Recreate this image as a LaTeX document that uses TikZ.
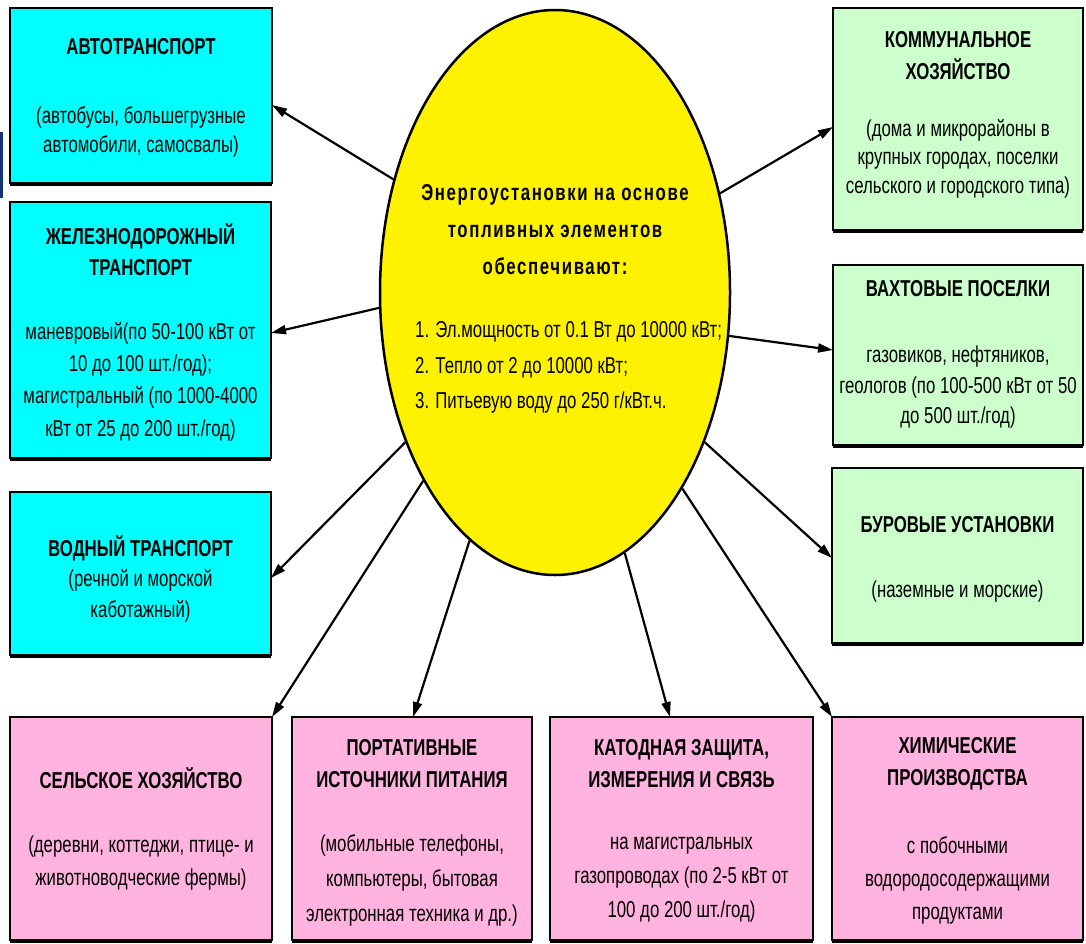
\documentclass[tikz,border=0pt]{standalone}
\usepackage{fontspec}
\setmainfont[FakeStretch=0.73]{Liberation Sans}
\newfontfamily\elfont[FakeStretch=0.73,LetterSpace=7]{Liberation Sans}
\usetikzlibrary{arrows.meta,shapes.geometric,shadows}
\definecolor{cyanbox}{RGB}{0,255,255}
\definecolor{greenbox}{RGB}{204,255,204}
\definecolor{pinkbox}{RGB}{255,179,222}
\definecolor{navybar}{RGB}{20,50,120}
\begin{document}
\begin{tikzpicture}[x=1pt,y=-1pt,
  box/.style={draw=black, line width=2.5pt, inner sep=0pt, outer sep=0pt, anchor=north west,
    drop shadow={shadow xshift=0pt, shadow yshift=-3pt, fill=black, opacity=1}},
  cbox/.style={box, fill=cyanbox},
  gbox/.style={box, fill=greenbox},
  pbox/.style={box, fill=pinkbox},
  ttl/.style={font=\fontsize{23}{31}\selectfont\bfseries, align=center, inner sep=0pt},
  body/.style={font=\fontsize{23}{31}\selectfont, align=center, inner sep=0pt},
  arr/.style={line width=2.2pt, -{Triangle[length=15pt,width=9pt]}}
]
\useasboundingbox (0,0) rectangle (1086,943);
\fill[white] (0,0) rectangle (1086,943);
\fill[navybar] (0,132) rectangle (2.5,198);

% ellipse
\node[ellipse, draw=black, line width=2.5pt, fill=yellow, minimum width=350pt, minimum height=565pt, inner sep=0pt] (ell) at (555,292.5) {};

% boxes
\node[cbox, minimum width=262pt, minimum height=175pt] (A) at (10,8) {};
\node[cbox, minimum width=261pt, minimum height=256pt] (B) at (10,202) {};
\node[cbox, minimum width=261pt, minimum height=163pt] (C) at (10,492) {};
\node[gbox, minimum width=250pt, minimum height=222pt] (D) at (833,8) {};
\node[gbox, minimum width=250pt, minimum height=180pt] (E) at (833,265) {};
\node[gbox, minimum width=251pt, minimum height=175pt] (F) at (832,468) {};
\node[pbox, minimum width=262pt, minimum height=223pt] (G) at (10,717) {};
\node[pbox, minimum width=240pt, minimum height=223pt] (H) at (292,717) {};
\node[pbox, minimum width=263pt, minimum height=223pt] (I) at (550,717) {};
\node[pbox, minimum width=251pt, minimum height=223pt] (J) at (832,717) {};

% texts
\node[ttl] (At) at (141,47) {АВТОТРАНСПОРТ};
\node[body, font=\fontsize{23}{29.5}\selectfont] (Ab) at (141,132) {(автобусы, большегрузные\\автомобили, самосвалы)};
\node[ttl] (Bt) at (140.5,250) {ЖЕЛЕЗНОДОРОЖНЫЙ\\ТРАНСПОРТ};
\node[body, font=\fontsize{23}{32.3}\selectfont] (Bb) at (140.5,381.5) {маневровый(по 50-100 кВт от\\10 до 100 шт./год);\\магистральный (по 1000-4000\\кВт от 25 до 200 шт./год)};
\node[ttl] (Ct) at (140.5,548) {ВОДНЫЙ ТРАНСПОРТ};
\node[body] (Cb) at (140.5,595.5) {(речной и морской\\каботажный)};
\node[ttl, font=\fontsize{23}{32}\selectfont\bfseries] (Dt) at (958,56) {КОММУНАЛЬНОЕ\\ХОЗЯЙСТВО};
\node[body, font=\fontsize{23}{28.5}\selectfont] (Db) at (958,158.5) {(дома и микрорайоны в\\крупных городах, поселки\\сельского и городского типа)};
\node[ttl] (Et) at (958,289) {ВАХТОВЫЕ ПОСЕЛКИ};
\node[body, font=\fontsize{23}{30.5}\selectfont] (Eb) at (958,387.5) {газовиков, нефтяников,\\геологов (по 100-500 кВт от 50\\до 500 шт./год)};
\node[ttl] (Ft) at (957.5,525) {БУРОВЫЕ УСТАНОВКИ};
\node[body] (Fb) at (957.5,592) {(наземные и морские)};
\node[ttl] (Gt) at (141,778) {СЕЛЬСКОЕ ХОЗЯЙСТВО};
\node[body, font=\fontsize{23}{33}\selectfont] (Gb) at (141,863.5) {(деревни, коттеджи, птице- и\\животноводческие фермы)};
\node[ttl, font=\fontsize{23}{32}\selectfont\bfseries] (Ht) at (412,764) {ПОРТАТИВНЫЕ\\ИСТОЧНИКИ ПИТАНИЯ};
\node[body, font=\fontsize{23}{35}\selectfont] (Hb) at (412,880) {(мобильные телефоны,\\компьютеры, бытовая\\электронная техника и др.)};
\node[ttl, font=\fontsize{23}{32}\selectfont\bfseries] (It) at (681.5,764) {КАТОДНАЯ ЗАЩИТА,\\ИЗМЕРЕНИЯ И СВЯЗЬ};
\node[body, font=\fontsize{23}{34}\selectfont] (Ib) at (681.5,880) {на магистральных\\газопроводах (по 2-5 кВт от\\100 до 200 шт./год)};
\node[ttl, font=\fontsize{23}{32}\selectfont\bfseries] (Jt) at (957.5,764) {ХИМИЧЕСКИЕ\\ПРОИЗВОДСТВА};
\node[body, font=\fontsize{23}{33}\selectfont] (Jb) at (957.5,880) {с побочными\\водородосодержащими\\продуктами};

\node[ttl, font=\elfont\fontsize{23}{37}\selectfont\bfseries] (Et1) at (555,230) {Энергоустановки на основе\\топливных элементов\\обеспечивают:};
\node[body, font=\fontsize{23}{35.5}\selectfont, align=left, anchor=west] (El) at (415,367.5) {1. Эл.мощность от 0.1 Вт до 10000 кВт;\\2. Тепло от 2 до 10000 кВт;\\3. Питьевую воду до 250 г/кВт.ч.};

% arrows
\draw[arr] (ell.145.7) -- ([yshift=-97pt]A.north east);
\draw[arr] (ell.185.9) -- ([yshift=-131pt]B.north east);
\draw[arr] (ell.225.2) -- ([yshift=-86pt]C.north east);
\draw[arr] (ell.235.6) -- (G.north east);
\draw[arr] (ell.251.1) -- ([xshift=121pt]H.north west);
\draw[arr] (ell.285.5) -- ([xshift=120pt]I.north west);
\draw[arr] (ell.303.2) -- (J.north west);
\draw[arr] (ell.315.6) -- ([yshift=-90pt]F.north west);
\draw[arr] (ell.346.7) -- ([yshift=-85pt]E.north west);
\draw[arr] (ell.31.9) -- ([yshift=-119pt]D.north west);
\end{tikzpicture}
\end{document}
